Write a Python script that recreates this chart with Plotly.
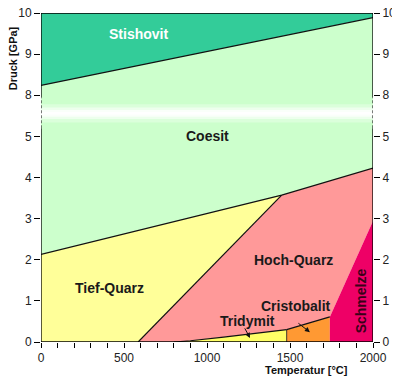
import plotly.graph_objects as go

# ---- data (temperature in °C, pressure in GPa) ----
T_coe_qz = [0, 1450, 2000]
P_coe_qz = [2.13, 3.57, 4.23]
T_st = [0, 2000]
P_st = [8.24, 9.89]
T_qz = [585, 1450]
P_qz = [0, 3.57]
T_trid = [800, 900, 1100, 1300, 1480]
P_trid = [0, 0.03, 0.12, 0.22, 0.30]
T_crist = [1480, 1740]
P_crist = [0.30, 0.61]
T_melt = [1740, 2000]
P_melt = [0.61, 2.94]
P_ticks = [0, 1, 2, 3, 4, 5, 8, 9, 10]
T_ticks = [0, 500, 1000, 1500, 2000]
P_top = 10

# broken axis: 5..8 GPa compressed
def tr(p):
    return p if p <= 5 else (p - 2 if p >= 8 else 5 + (p - 5) / 3)

def trl(ps):
    return [tr(p) for p in ps]

C_st = "#33CC99"
C_coe = "#CCFFCC"
C_tq = "#FFFF99"
C_hq = "#FF9999"
C_tr = "#FFFF66"
C_cr = "#FF9933"
C_me = "#EE0066"

fig = go.Figure()

def poly(xs, ys, color):
    fig.add_trace(go.Scatter(x=xs, y=trl(ys), fill="toself", fillcolor=color,
                             mode="lines", line=dict(width=0, color=color),
                             hoverinfo="skip", showlegend=False))

# Coesite
poly(T_coe_qz + T_st[::-1], P_coe_qz + P_st[::-1], C_coe)
# Stishovite
poly(T_st + [T_st[-1], T_st[0]], P_st + [P_top, P_top], C_st)
# Tief-Quarz
poly([0, T_qz[0], T_qz[1], T_coe_qz[0]], [0, 0, P_qz[1], P_coe_qz[0]], C_tq)
# Hoch-Quarz
poly([T_qz[0]] + T_trid + T_crist[1:] + T_melt[1:] + [T_coe_qz[2], T_coe_qz[1]],
     [0] + P_trid + P_crist[1:] + P_melt[1:] + [P_coe_qz[2], P_coe_qz[1]], C_hq)
# Tridymit
poly(T_trid + [T_trid[-1]], P_trid + [0], C_tr)
# Cristobalit
poly([T_crist[0]] + T_crist + [T_crist[1]], [0] + P_crist + [0], C_cr)
# Schmelze
poly([T_melt[0]] + T_melt + [T_melt[1]], [0] + P_melt + [0], C_me)

def bline(xs, ys, w=1.2):
    fig.add_trace(go.Scatter(x=xs, y=trl(ys), mode="lines",
                             line=dict(color="#111", width=w),
                             hoverinfo="skip", showlegend=False))

bline(T_coe_qz, P_coe_qz)
bline(T_st, P_st)
bline(T_qz, P_qz)
bline(T_trid, P_trid)
bline(T_crist, P_crist)
bline([T_crist[0], T_crist[0]], [0, P_crist[0]], 0.8)

# invisible trace for right axis
fig.add_trace(go.Scatter(x=[0], y=[0], yaxis="y2", mode="markers",
                         marker=dict(opacity=0), hoverinfo="skip", showlegend=False))

ymax = tr(P_top)
shapes = []
# white band at break
for half, op in [(0.22, 0.3), (0.14, 0.5), (0.08, 0.7), (0.035, 0.85)]:
    shapes.append(dict(type="rect", xref="x", yref="y", x0=0, x1=2000,
                       y0=5.56 - half, y1=5.56 + half, fillcolor="white",
                       opacity=op, line=dict(width=0), layer="above"))
# axis frame
lw = 1.3
for xv in [0, 2000]:
    shapes.append(dict(type="line", xref="x", yref="y", x0=xv, x1=xv, y0=0, y1=5.2,
                       line=dict(color="black", width=lw), layer="above"))
    shapes.append(dict(type="line", xref="x", yref="y", x0=xv, x1=xv, y0=5.2, y1=5.95,
                       line=dict(color="#333", width=lw, dash="3px,2px"), layer="above"))
    shapes.append(dict(type="line", xref="x", yref="y", x0=xv, x1=xv, y0=5.95, y1=ymax,
                       line=dict(color="black", width=lw), layer="above"))
for yv in [0, ymax]:
    shapes.append(dict(type="line", xref="x", yref="y", x0=0, x1=2000, y0=yv, y1=yv,
                       line=dict(color="black", width=lw), layer="above"))

F = "Liberation Sans, Arial, sans-serif"
ann = []
def lab(text, x, y, color="#1a1a1a", angle=0):
    ann.append(dict(text="<b>%s</b>" % text, x=x, y=y, xref="x", yref="y",
                    showarrow=False, font=dict(family=F, size=14, color=color),
                    textangle=angle))

lab("Stishovit", 587, 7.48, color="white")
lab("Coesit", 1003, 5.01)
lab("Tief-Quarz", 410, 1.32)
lab("Hoch-Quarz", 1520, 2.0)
lab("Cristobalit", 1538, 0.87)
lab("Tridymit", 1241, 0.50)
lab("Schmelze", 1928, 0.99, color="#3a0018", angle=-90)

for hx, hy, axp, ayp in [(1259, 0.1, -6, -11), (1620, 0.24, -13, -10)]:
    ann.append(dict(text="", x=hx, y=hy, xref="x", yref="y", ax=axp, ay=ayp,
                    showarrow=True, arrowhead=2, arrowsize=1, arrowwidth=1,
                    arrowcolor="#111", standoff=0))

ann.append(dict(text="<b>Temperatur [°C]</b>", x=1602, y=0.0, xref="x", yref="paper",
                yanchor="top", yshift=-20, showarrow=False,
                font=dict(family=F, size=11, color="#111")))
ann.append(dict(text="<b>Druck [GPa]</b>", x=0, xref="paper", xanchor="center", xshift=-28,
                y=(341.7 - 58) / 41.125, yref="y", showarrow=False, textangle=-90,
                font=dict(family=F, size=11, color="#111")))

yt = dict(range=[0, ymax], tickvals=trl(P_ticks), ticktext=[str(p) for p in P_ticks],
          ticks="outside", ticklen=6, tickcolor="black", showgrid=False, zeroline=False,
          showline=False, automargin=False, ticklabeloverflow="allow",
          tickfont=dict(family=F, size=12, color="#222"), fixedrange=True)

# the page body has an 8px margin; size the figure so the plot lands where the reference has it
fig.update_layout(
    template="none",
    width=392, height=371,
    margin=dict(l=33, r=27, t=5, b=37, autoexpand=False),
    paper_bgcolor="white", plot_bgcolor="white",
    xaxis=dict(range=[0, 2000], tickvals=T_ticks, ticks="outside", ticklen=5,
               tickcolor="black", showgrid=False, zeroline=False, showline=False,
               automargin=False, ticklabeloverflow="allow",
               tickfont=dict(family=F, size=12, color="#222"),
               minor=dict(dtick=100, ticks="outside", ticklen=5, tickcolor="black",
                          showgrid=False)),
    yaxis=yt,
    yaxis2=dict(yt, overlaying="y", side="right"),
    shapes=shapes, annotations=ann,
)

fig.write_html("out.html")
